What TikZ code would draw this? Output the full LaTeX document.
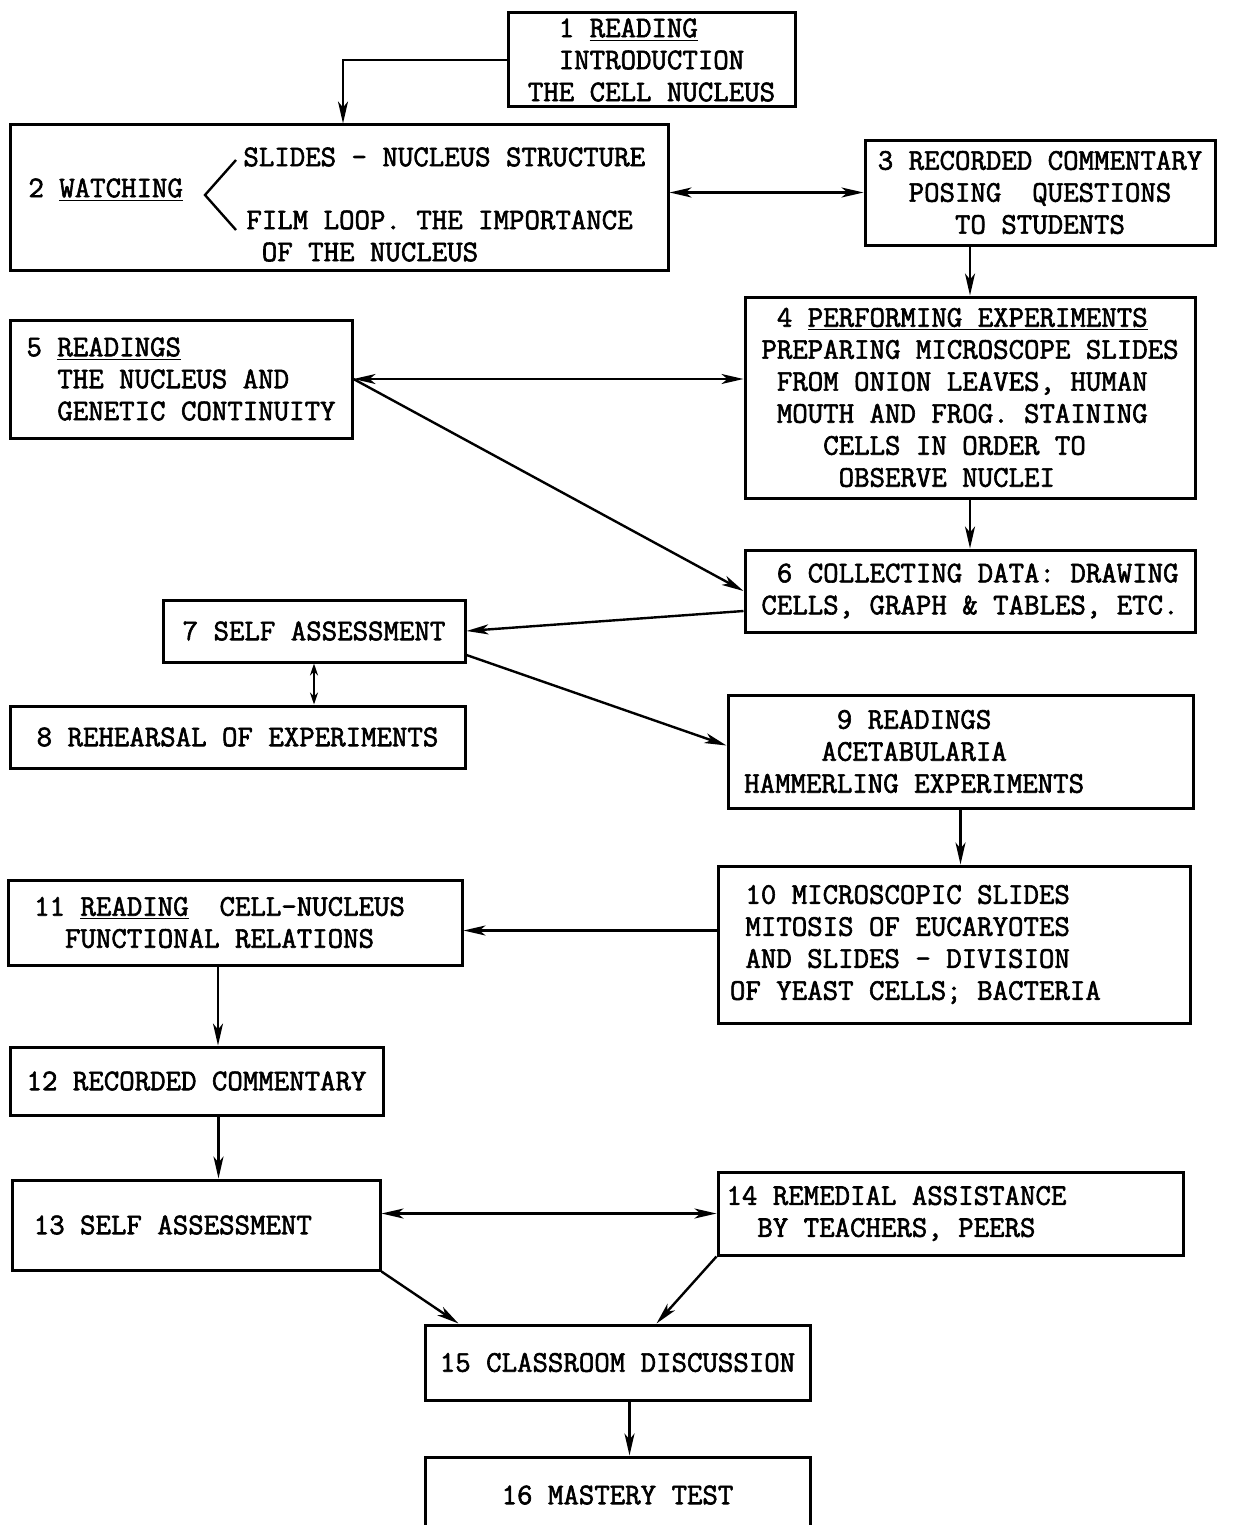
\documentclass[tikz,border=0pt]{standalone}
\usepackage{fontspec}
\setmonofont{Latin Modern Mono}[FakeBold=2]
\usetikzlibrary{arrows.meta}

\begin{document}
\begin{tikzpicture}[x=0.5pt, y=-0.5pt, font=\ttfamily\fontsize{15}{16}\selectfont]
    \useasboundingbox (0,0) rectangle (1241,1525);

    \begin{scope}[every node/.style={draw, line width=1.5pt, inner sep=0pt, align=left}]
        \node[minimum width=143.5pt, minimum height=47pt] (1) at (651.5,60) {~~1 \underline{READING}\\~~INTRODUCTION\\THE CELL NUCLEUS};
        \node[minimum width=329pt, minimum height=72.5pt] (2) at (339,197.5) {};
        \node[minimum width=175pt, minimum height=52.5pt] (3) at (1040,192.5) {3 RECORDED COMMENTARY\\~~POSING~~QUESTIONS\\~~~~~TO STUDENTS};
        \node[minimum width=225pt, minimum height=100.5pt] (4) at (970,397.5) {~4 \underline{PERFORMING EXPERIMENTS}\\PREPARING MICROSCOPE SLIDES\\~FROM ONION LEAVES, HUMAN\\~MOUTH AND FROG. STAINING\\~~~~CELLS IN ORDER TO\\~~~~~OBSERVE NUCLEI};
        \node[minimum width=171pt, minimum height=59pt] (5) at (181,379) {5 \underline{READINGS}\\~~THE NUCLEUS AND\\~~GENETIC CONTINUITY};
        \node[minimum width=225pt, minimum height=41pt] (6) at (970,591) {~6 COLLECTING DATA: DRAWING\\CELLS, GRAPH \& TABLES, ETC.};
        \node[minimum width=151pt, minimum height=31pt] (7) at (314,631) {7 SELF ASSESSMENT};
        \node[minimum width=227.5pt, minimum height=31pt] (8) at (237.5,737) {8 REHEARSAL OF EXPERIMENTS};
        \node[minimum width=232.5pt, minimum height=56.5pt] (9) at (960.5,751.5) {~~~~~~9 READINGS\\~~~~~ACETABULARIA\\HAMMERLING EXPERIMENTS\hphantom{000000}};
        \node[minimum width=236pt, minimum height=78.5pt] (10) at (954,944.5) {~10 MICROSCOPIC SLIDES\\~MITOSIS OF EUCARYOTES\\~AND SLIDES - DIVISION\\OF YEAST CELLS; BACTERIA\hphantom{00000}};
        \node[minimum width=227pt, minimum height=42.5pt] (11) at (235,922.5) {11 \underline{READING}~~CELL-NUCLEUS\hphantom{00}\\~~FUNCTIONAL RELATIONS};
        \node[minimum width=186.5pt, minimum height=34pt] (12) at (196.5,1081) {12 RECORDED COMMENTARY};
        \node[minimum width=184pt, minimum height=45pt] (13) at (196,1225) {13 SELF ASSESSMENT\hphantom{000}};
        \node[minimum width=232.5pt, minimum height=41.5pt] (14) at (950.5,1213.5) {14 REMEDIAL ASSISTANCE\hphantom{0000000}\\~~BY TEACHERS, PEERS};
        \node[minimum width=192.5pt, minimum height=37.5pt] (15) at (617.5,1362.5) {15 CLASSROOM DISCUSSION};
        \node[minimum width=192.5pt, minimum height=38pt] (16) at (617.5,1495) {16 MASTERY TEST};
    \end{scope}

    \begin{scope}[every node/.style={inner sep=0pt, align=left}]
        \node[anchor=west] (watch) at (28,190) {2 \underline{WATCHING}};
        \node[anchor=west] (slides) at (243,157) {SLIDES - NUCLEUS STRUCTURE};
        \node[anchor=west] (film) at (246,236) {FILM LOOP. THE IMPORTANCE\\~OF THE NUCLEUS};
    \end{scope}
    \draw[line width=1.2pt] (236,160) -- (205,195) -- (236,230);

    \begin{scope}[every edge/.style={draw, line width=1.2pt}, >={Stealth[length=11pt, width=5pt, inset=3pt]}]
        \draw [->, line width=1.2pt] (1.west) -| ([xshift=2pt]2.north);
        \path [<->] (2.east |- 3.west) edge (3.west);
        \path [->] (4.north |- 3.south) edge (4.north);
        \path [<->] (5.east) edge (5.east -| 4.west);
        \path [->] (5.east) edge (6.west);
        \path [->] (4.south) edge (6.north);
        \path [->] ([yshift=-10pt]6.west) edge (7.east);
        \path [<->, >={Stealth[length=6pt, width=4pt]}] (7.south) edge (7.south |- 8.north);
        \path [->] ([yshift=-12pt]7.east) edge ([yshift=3pt]9.west);
        \path [->] (9.south) edge (9.south |- 10.north);
        \path [->] ([yshift=7pt]10.west) edge ([yshift=7pt]10.west -| 11.east);
        \path [->] ([xshift=-8.5pt]11.south) edge ([xshift=-8.5pt]11.south |- 12.north);
        \path [->] ([xshift=11pt]12.south) edge ([xshift=11pt]12.south |- 13.north);
        \path [<->] (14.west -| 13.east) edge (14.west);
        \path [->] (13.south east) edge ([xshift=17.5pt]15.north west);
        \path [->] (14.south west) edge ([xshift=-77.5pt]15.north east);
        \path [->] ([xshift=6pt]15.south) edge ([xshift=6pt]15.south |- 16.north);
    \end{scope}
\end{tikzpicture}
\end{document}
